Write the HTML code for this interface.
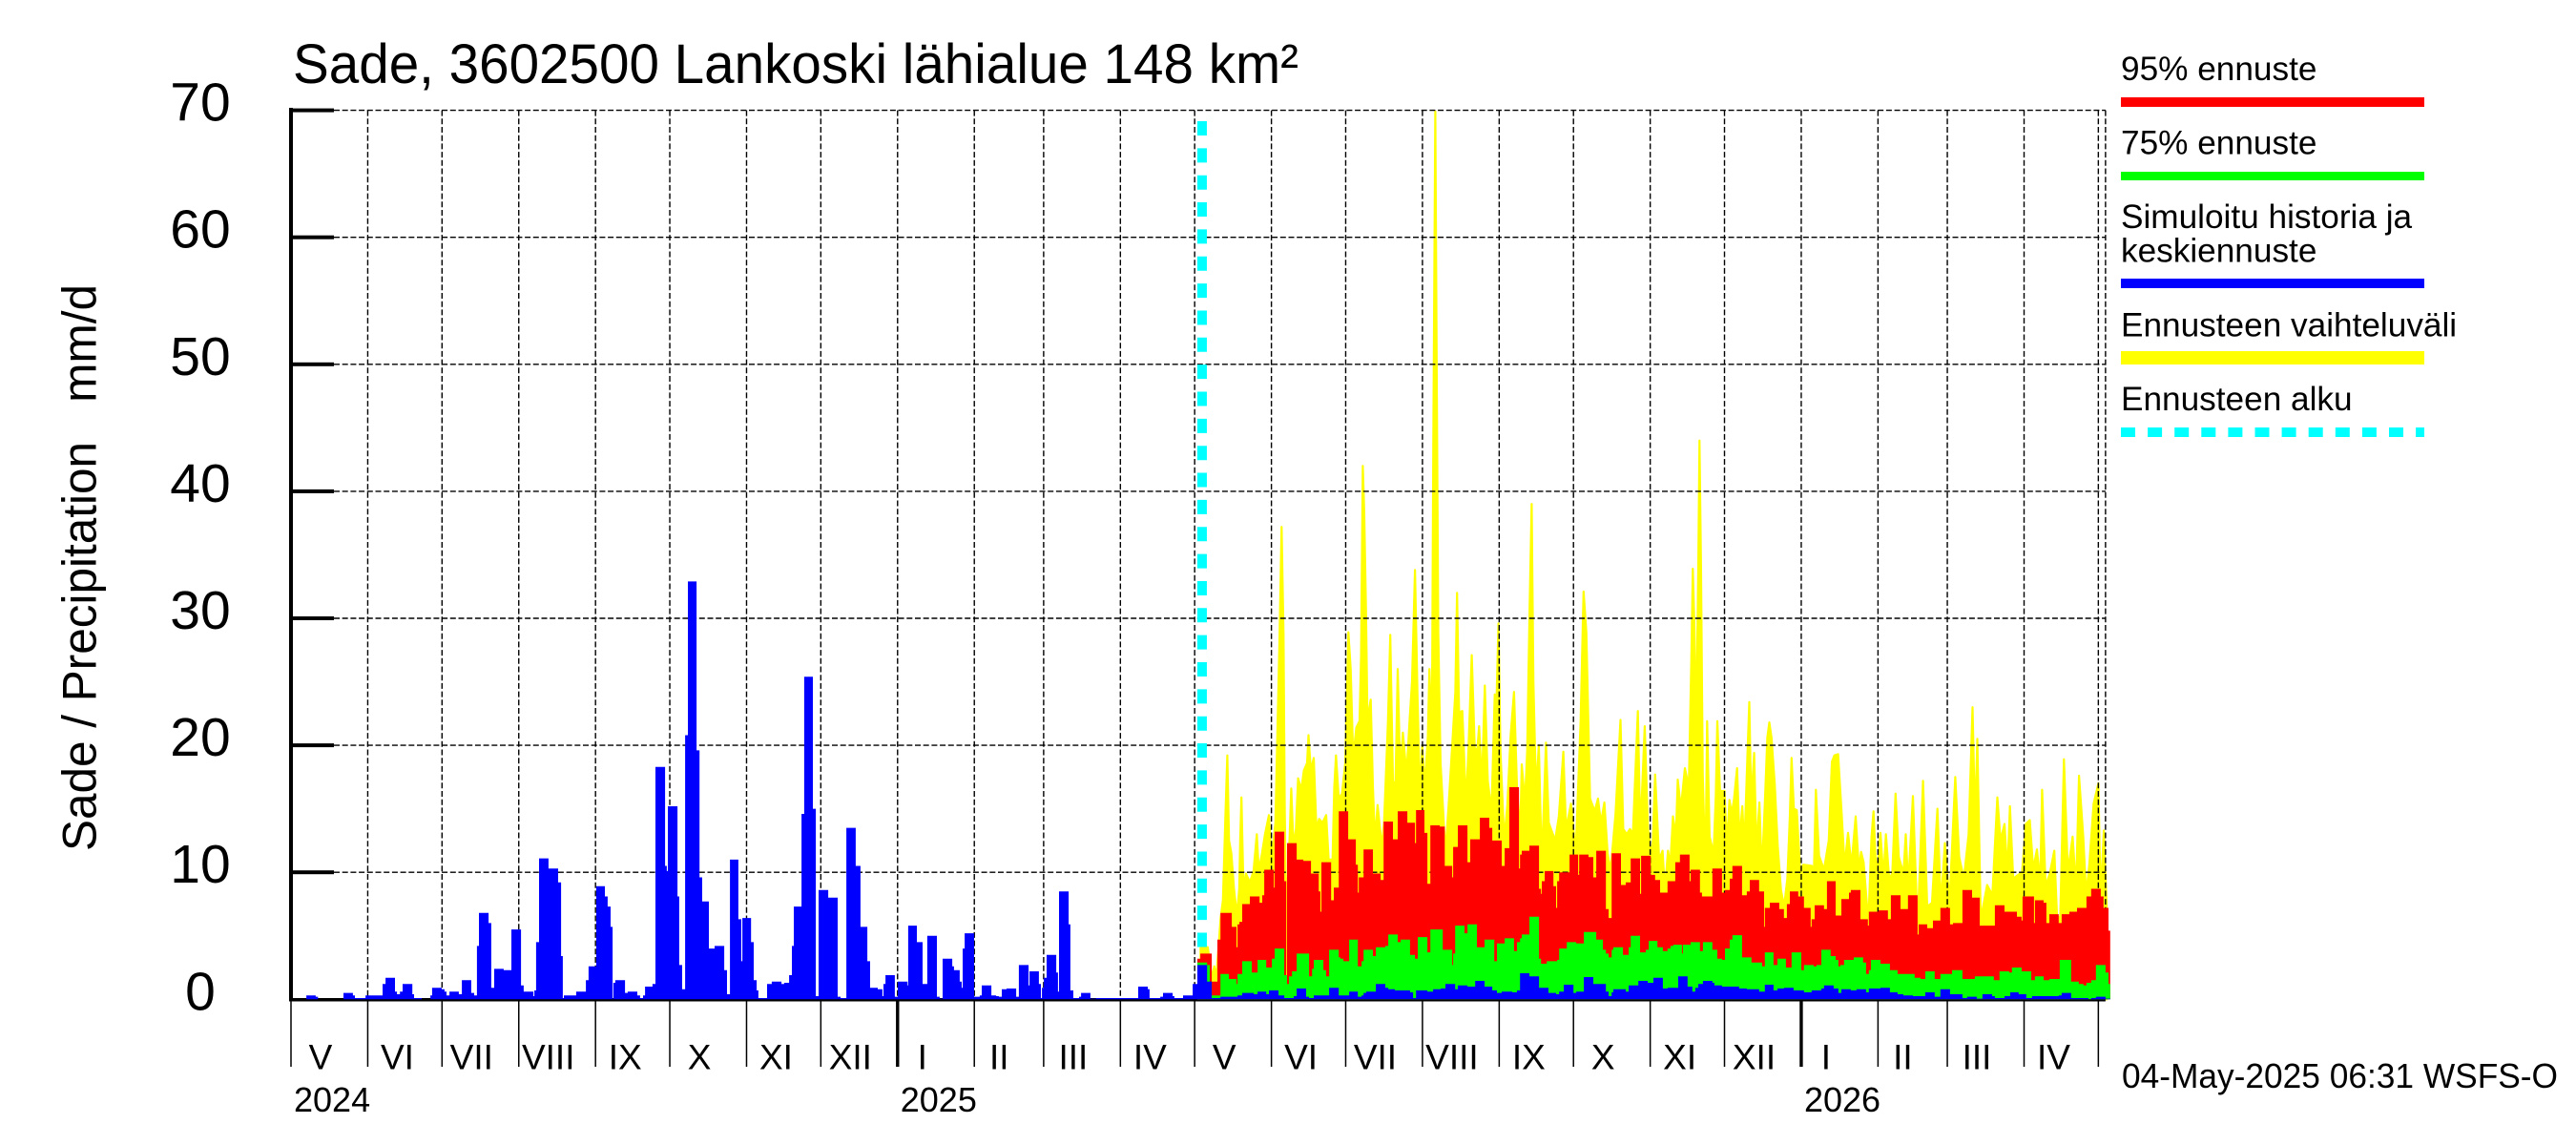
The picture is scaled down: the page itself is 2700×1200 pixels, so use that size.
<!DOCTYPE html>
<html lang="fi">
<head>
<meta charset="utf-8">
<title>Sade, 3602500 Lankoski lähialue 148 km²</title>
<style>
html,body{margin:0;padding:0;background:#fff;width:2700px;height:1200px;overflow:hidden}
svg{display:block;font-family:"Liberation Sans",Arial,sans-serif}
text{fill:#000}
</style>
</head>
<body>
<svg id="chart" xmlns="http://www.w3.org/2000/svg" width="2700" height="1200" viewBox="0 0 2700 1200">
  <rect x="0" y="0" width="2700" height="1200" fill="#fff"/>
  <g id="plot"></g>
  <text x="307" y="87" font-size="58" textLength="1054" lengthAdjust="spacingAndGlyphs">Sade, 3602500 Lankoski lähialue 148 km²</text>
  <text transform="translate(100.7 892) rotate(-90)" font-size="50" textLength="594" lengthAdjust="spacingAndGlyphs" style="white-space:pre">Sade / Precipitation   mm/d</text>
  <text x="2224" y="1140" font-size="36.5" textLength="457" lengthAdjust="spacingAndGlyphs">04-May-2025 06:31 WSFS-O</text>
  <g>
    <text x="2223" y="84" font-size="35.2">95% ennuste</text>
    <rect x="2223" y="102" width="318" height="10" fill="#ff0000"/>
    <text x="2223" y="161.5" font-size="35.2">75% ennuste</text>
    <rect x="2223" y="180" width="318" height="9" fill="#00ff00"/>
    <text x="2223" y="239" font-size="35.2">Simuloitu historia ja</text>
    <text x="2223" y="274.5" font-size="35.2">keskiennuste</text>
    <rect x="2223" y="292" width="318" height="10" fill="#0000ff"/>
    <text x="2223" y="352.5" font-size="35.2">Ennusteen vaihteluväli</text>
    <rect x="2223" y="368" width="318" height="14" fill="#ffff00"/>
    <text x="2223" y="430" font-size="35.2">Ennusteen alku</text>
    <line x1="2223" y1="453" x2="2541" y2="453" stroke="#00ffff" stroke-width="10" stroke-dasharray="15 13.1"/>
  </g>
</svg>
<script>
/* ---------- chart data (day = days since 2024-05-01, value = mm/d) ---------- */
const yTicks = [0, 10, 20, 30, 40, 50, 60, 70];
const monthLabels = ['V','VI','VII','VIII','IX','X','XI','XII','I','II','III','IV','V','VI','VII','VIII','IX','X','XI','XII','I','II','III','IV'];
const monthStartDays = [0,31,61,92,123,153,184,214,245,276,304,335,365,396,426,457,488,518,549,579,610,641,669,700,730];
const yearLabels = ['2024','2025','2026'];
const yearStartDays = [0,245,610];
const forecastStartDay = 368;
const seriesEndDay = 734.8;
const axisEndDay = 732.9;

const historyDays = [6.2,10,10.9,21.2,25,25.8,30.1,37,38.2,42,42.8,44,45.1,49,49.7,52.8,56.3,57,60.9,62,62.8,64,67.8,69,72.8,74,75.1,75.9,79.8,80.9,82.1,85.9,89,92.9,94,97.9,98.3,99,100.2,104,107.9,109.1,109.8,110.2,113.3,115.2,119.1,120.2,123.3,126.8,127.9,129.1,129.9,130.2,131,134.9,136,139.9,141,142.2,143,146,147.2,151.1,151.8,152.2,156.1,156.8,158,159.2,160.3,163.8,165,166.1,168.8,171.1,175,176.1,177.3,180.7,181.9,182.3,185.8,186.9,188.1,188.8,192.3,194.2,198.1,199.2,201.2,202.3,203.1,206.2,207.3,210.8,212,213.1,217,220.8,222,224.3,228.1,230,232.8,233.9,237,238.9,239.3,240.1,243.9,245.1,249,249.3,252.8,255.1,257,260.9,262,263.2,267.1,267.8,270.1,270.9,271.3,272.1,275.9,278.2,279,282.9,284.8,285.9,287.1,289,292.9,294,297.9,298.3,302.1,302.9,303.3,304.1,305.2,309.1,309.8,310.2,314.1,314.8,316,318.3,319.1,322.9,325.2,342.2,346.1,346.8,351.1,352.2,356.1,356.8,360.3,364.2,366.1,370,371.9];
const historyValues = [0.3,0.2,0,0.5,0.3,0.1,0.3,1.2,1.7,0.6,0.4,0.6,1.2,0.4,0.1,0,0.3,0.9,0.8,0.6,0.3,0.6,0.4,1.5,0.5,0.3,4.2,6.8,6,0.9,2.4,2.3,5.5,1.1,0.6,0.25,0.7,4.5,11.1,10.3,9.2,3.4,0.1,0.3,0.3,0.6,1.5,2.6,8.9,8.1,7.3,5.7,0.05,1.3,1.5,0.5,0.6,0.3,0.1,0.3,1,1.2,18.3,10.5,10.1,15.2,8.1,2.7,0.8,20.8,32.9,19.6,9.6,7.7,4,4.2,2.3,0.4,11,6.3,3,6.4,4.5,1.5,0.7,0.1,1.2,1.4,1.2,1.3,1.9,4.2,7.3,14.6,25.4,15,0.25,8.6,8,0.2,0.1,13.5,10.5,5.7,3,0.9,0.8,0.25,1.2,1.9,0.2,1.4,1.1,5.8,4.5,1.2,5,0.2,0.05,3.2,2.6,2.3,1.4,0.9,4,5.2,0.2,0.3,1.1,0.3,0.25,0.2,0.8,0.85,0.2,2.7,1.1,2.2,1.2,0.1,0.9,1.7,3.5,2.1,0.6,8.5,5.9,0.7,0.1,0.2,0.5,0.05,0.1,1,0.8,0.1,0.2,0.5,0.25,0.1,0.3,1.2,2.7,1.4,0];

const rangeDays = [
367.4,370.3,371.9,372.9,373.8,375.5,376.4,377.4,378.2,378.9,
379.8,380.9,382.1,383,383.4,383.9,384.7,385.7,387.3,388.8,
390.1,390.9,392.2,393.4,395,396,397.6,398.3,399.3,400.1,
400.9,401.4,402,403.3,404,404.9,405.9,406.8,408.1,409.1,
410.4,411,411.9,413.1,414.2,415.3,416.6,418.1,419.1,420.7,
421.4,422.1,423.2,424.5,425.8,427.1,428,429,430.3,431.6,
432.2,432.9,433.5,434.2,434.8,436.1,437,437.8,438.9,440.6,
441.5,443.1,444,445.1,446.1,447,448,449.1,450.6,451.8,
452.8,454,455,456,456.9,457.9,459.2,459.8,460.8,461.4,
462.2,462.8,463.4,464.3,466.3,467.6,469.2,470.3,471,471.8,
473.1,474.6,475.6,476.9,478.1,479.1,479.9,481,482.2,483.4,
484.9,486.2,486.8,487.7,488.5,490,491.3,492.6,494,495.2,
496.5,497.1,498.4,499.3,500.3,501.1,501.8,502.9,504,505.2,
506.9,508,510.6,512.1,513.9,515,517,518.9,520.9,522.1,
523.2,524.7,526.6,527.9,529.1,530.5,531.8,533,535,537,
538.1,539.5,540.8,542,544,545,546.8,548.1,549.8,551,
552.6,554,554.9,556.2,557.1,558.2,559.4,560.1,561.4,563,
564.6,565.6,566.2,566.9,567.5,568.4,568.9,569.5,570.2,571.3,
572,573,574.6,575.5,576.1,577.2,579,580,581,581.9,
582.8,584.1,585.1,586.2,587,588.3,589,589.8,591,591.9,
593.1,594.1,595.4,596.3,597.1,598,599.3,600.5,601.8,603.1,
604.4,605.4,606.1,607,608.2,609.5,610.8,614.3,615,615.9,
617.2,619.2,621.1,622.4,623.4,624.9,626.2,627.5,628.9,630.3,
632,633.3,634.2,635.2,637.1,638.4,639.2,640.4,642,643.2,
644.2,645.5,646.8,648.1,649.4,651.3,652.2,653.2,655.1,657,
659.2,660.9,662.8,665,666.4,668,669.9,672.2,673.8,675.7,
677.6,679.2,680.2,681.1,682.5,685.1,687.2,689.2,690.5,692.1,
693.3,694.3,695.6,696.9,699.2,700.7,702.3,703.7,705.2,706.5,
707.3,708.7,710.4,712.2,713.3,714.6,716.1,717.7,719.6,721,
722.2,723.9,725.1,726.4,728.1,730,730.9,732.2,733.5];
const rangeMaxValues = [
4.1,4.1,1.7,2.6,1.8,6.4,7.8,14.4,19.2,12.5,
11.5,8.7,6.6,8.7,12.5,15.9,8.7,9.9,9.2,10.1,
13,10.1,11.5,13,14.5,11,13.9,20,28.7,37.2,
28.7,14.8,6.4,12.5,16.6,12,13.4,17.4,16.5,18,
18.6,20.8,18,19,13.4,14.2,13.9,14.5,11,11,
16.7,19.2,15.8,16.2,18.6,28.9,26,19,21.4,21.9,
27,42,38.3,30.8,21.9,23.6,16.7,12.5,15.3,12,
13.9,21.9,28.7,17.2,16.7,26,17.7,21,17.7,21.9,
25,33.8,24,15.8,20,16.7,20.7,26,20.5,43.5,
69.9,47.7,28.9,18.6,11.5,15.3,20.6,24.2,32,22.6,
22.7,15.3,19.8,27.1,19.8,19.5,21.5,16.7,24.7,17.2,
14.8,24,22.3,29.6,19.5,12.5,15.3,20.7,24.2,16.7,
13,18.5,15.5,19.5,31,39,25,16.2,20,10.6,
20.2,13.9,12.5,14.4,19.5,13.4,15.4,11.5,21.9,32.1,
28.9,15.8,14.8,15.8,13.9,15.5,11.5,10.1,14.6,22,
13.4,13,13.4,13,22.7,13,21.5,13.4,11,17.7,
11,11.7,8.6,11.7,10.5,14.4,12.8,17.3,15,18.2,
16.7,26.5,33.9,29,20.6,33.6,44,34,17.7,9.9,
21.9,12.8,11.5,16,21.9,16.4,16.4,12.1,15.7,14.6,
15.7,18.2,12.5,15.2,11.8,19.3,23.4,15.4,19.4,11.7,
15.5,9.9,16,20.6,21.8,20.6,16.9,12.1,8.6,7.3,
9.5,14.4,19,15,14.9,10.2,10.6,10.5,8.9,16.5,
11.3,10.2,12.5,18.7,19.2,19.3,15,10.5,13.1,10.5,
14.4,10.2,11.6,10.8,6,12.8,14.8,9.5,13.1,9.5,
13,9.5,9.9,16.2,11.2,9.9,13,8.9,16,5.6,
17.2,7.3,7.6,15,7.3,12.3,7.6,17.5,11.2,9.5,
13,23,13.8,20.5,6.3,9,8.2,15.9,12.5,13.8,
9.9,15.2,9.5,9.7,10,13.8,14.1,10.2,11.8,9.1,
16.5,8.9,9.9,11.7,6.6,6.3,18.9,10,12.8,8.6,
17.6,12.8,8.2,10.7,15.4,17,7.9,13.3,6.6];

const p95Days = [366.1,367.3,371.9,374.2,375.4,380,381.9,382.3,383.1,384.2,387.3,391.2,392.3,393.1,397,397.3,401.2,402,402.3,406.2,408.9,412,415.1,415.8,416.2,420.1,421.2,423.2,427,430.1,430.9,431.3,433.2,437,440.1,441.3,445.1,447,450.9,454,454.4,457.8,459,460.2,464,466,469,469.4,471.3,475.2,476.3,480.2,484,485.2,489,490.2,492.1,496,496.4,497.1,500.2,504.1,504.9,505.2,506.4,509.9,511,511.4,512.2,516.4,519.9,520.3,524.1,526,527.2,531.1,532.2,533.4,537.2,539.1,541.1,544.9,545.3,549.2,551,553,556,559.1,561,564.9,565.3,569.1,569.9,571.1,574.1,578,579.2,581.1,582.2,586.1,588,589.2,593,595,595.3,597.3,601.1,603,604.2,605.4,608.8,611.1,613.8,614.2,615.4,619.2,620.4,623.9,626.2,629.3,630,633.9,636.9,637.3,641.2,645,646.2,650.1,653.1,657,657.4,660.9,663.2,666.2,670.1,671.3,675.1,679,682.1,688.2,692.1,694,697.1,699,699.4,704,704.4,707.9,709,710.2,714,715.2,718.3,721.4,725.2,727.1,731,732.1,734.1];
const p95Values = [3.2,3.6,1.4,4.7,6.8,5.7,4.1,5.9,6.1,7.5,8.1,7.6,8.2,10.2,8.8,13.2,9.3,1.8,12.3,11,10.9,9.9,8.5,6.9,10.8,7.8,8.8,14.8,12.6,10.6,8.4,9.6,11.8,9.9,9.4,14,12.6,14.8,13.9,12.3,14.9,13.1,9.1,13.7,13.6,10.5,9.6,12,13.7,10.8,12.6,14.3,13.5,12.5,10.5,11.9,16.7,10.3,11.4,11.7,12.1,8.7,8.3,9.3,10.1,8.9,7.2,9.3,10,11.4,9.8,11.4,11.2,9.6,11.7,7.1,6.4,11.5,9,9.2,11.1,8.3,11.3,9.8,9.4,8.4,9.3,10.8,11.4,9.3,10.2,8.4,8.1,8.1,10.3,8.4,8.6,9.5,10.5,8.2,8.5,9.4,8.5,5.7,7.2,7.6,7.1,6.4,7.5,8.5,8.1,7.2,5.7,6.3,7.4,7.1,9.3,6.6,7.9,8.4,8.6,6.3,5.8,6.9,7,6.3,8.2,7.1,8.2,5.1,5.9,5.6,6.2,7.2,5.9,6,8.6,8,5.8,7.4,6.9,6.9,6.5,6.2,8.1,6,7.8,7.6,6,6.7,6,6.7,6.9,7.2,8.1,8.7,8.1,7.2,5.4];

const p75Days = [366.1,370,371.1,371.9,375.4,378.8,381.9,382.3,384.2,388.1,390.4,393.9,396.2,397.3,401.2,402.3,403.1,404.3,406.2,411.2,412.4,413.1,417,418.1,419.3,423.2,423.9,425.1,427.4,430.9,432.4,433.2,437,438.2,442,443.2,447,448.2,452,454,455.1,459,460.2,465.2,469,469.4,470.2,474,475.2,479,482.1,486,487.1,490.2,494,495.2,496.4,497.1,500.2,504.1,504.9,506.4,507.2,511.4,512.2,515.3,519.1,522.2,527.2,529.9,531.1,532.2,533.4,534.1,538,540.3,541.1,544.9,547.2,548.4,551.9,554.1,556,557.2,558.3,561.8,562.2,565.3,569.1,570.3,574.1,576.1,578,579.2,581.1,582.2,586.1,589.9,594.2,595.3,598.8,600.4,603.8,606.1,610,611.1,615,616.2,618.1,621.9,623.9,625,625.8,627.3,631.2,635,636.2,637.3,638.1,642,645.8,648.9,655.8,658.2,660.1,663.9,666.2,670.9,675.1,680.1,684,687.8,690.1,694,695.1,699,702.9,704.4,707.9,710.2,714.4,719,722.1,724,725.2,727.1,729,732.9,734.1];
const p75Values = [2.9,2.7,1.4,0.3,2,1.6,1.2,2,3,2.1,3.1,2.5,3.2,4,1.9,1.2,1.8,2.2,3.6,1.8,2.4,3.1,2.3,1.8,3.9,3.3,3.2,3,4.7,2.6,3,3.9,3.4,4.1,4.2,5.1,4.5,4.7,3.5,3.2,4.9,3.7,5.5,3.9,2.7,3.6,5.8,5.2,5.9,4.1,4.7,3,4.4,4.8,3.8,4.5,4.8,5.1,6.5,3.2,2.8,2.8,3,3.1,4,4.5,4.4,5.3,4.7,3.9,3.6,3.3,3.9,4.1,3.5,4.1,5,3.7,3.9,4.6,4.1,3.8,4,4.2,4.3,3.6,4.3,4.5,3.8,4.5,3.9,3.2,3.1,4,4.7,5.05,3.3,2.9,2.6,3.7,2.7,3.2,2.5,3.7,2.3,2.7,2.6,2.7,3.9,3.4,3.1,2.6,2.7,3.1,3.3,2.9,2,2.3,3.1,2.8,2.3,2,1.7,1.6,2.2,1.6,2,2.3,1.6,1.8,1.8,1.5,2.2,2.1,2.5,2.2,1.5,1.8,1.5,1.6,3.1,1.4,1.2,1.1,1.3,1.5,2.7,2.1,1.2];

const meanDays = [371.9,375.4,381.5,382.3,384.2,388.9,390.4,393.9,395,398.9,401.2,405,406.2,410,411.2,413.1,419.3,423.2,427.4,430.9,432.4,433.2,434.3,438.2,442,443.2,445.9,452,453.2,454.4,459,461.3,464.4,466.3,470.2,471.3,475.2,478.3,482.1,485.2,487.1,489,493.3,495.2,496.4,500.2,504.1,507.9,511,512.2,514.1,518,519.1,522.2,526,531.1,532.2,533.4,534.1,539.1,540.3,544.2,548,550.3,554.1,556,560.3,564.1,566,567.2,568.4,570.3,574.1,574.9,578,584.9,588,593,595.3,598.8,600.4,603,606.9,611.1,614.2,618.1,619.2,623.1,625,626.2,630,632.3,636.2,637.3,642,645.8,648.9,651.2,655.1,660.1,663.9,666.2,670.1,675.1,677,680.9,683.2,687.1,688.2,692.1,694.4,697.8,700.9,703.2,714,715.2,719,726,727.1,729,732.9];
const meanValues = [0.1,0.2,0.2,0.3,0.5,0.4,0.6,0.4,0.7,0.3,0.1,0.25,0.85,0.2,0.1,0.3,0.9,0.3,0.6,0.2,0.3,0.5,0.6,1.2,0.9,0.8,0.7,0.55,0.1,0.7,0.6,0.8,0.85,1.2,0.8,1.1,1,1.45,1,0.7,0.5,0.6,0.55,0.7,2.05,1.8,0.9,0.5,0.4,0.6,1.15,0.5,0.6,1.75,1.2,0.6,0.25,0.55,0.8,0.6,1.1,1.45,1.3,1.7,0.85,0.9,1.8,1,0.6,0.9,1.2,1.45,1.3,1.1,1,0.85,0.8,0.6,1.15,0.7,0.85,0.9,0.7,0.55,0.7,0.85,1.1,0.85,0.5,0.8,0.7,0.8,0.55,0.85,0.9,0.55,0.4,0.3,0.25,0.55,0.2,0.8,0.4,0.1,0.2,0.05,0.4,0.25,0.1,0.25,0.55,0.4,0.1,0.25,0.3,0.5,0.1,0.02,0.1,0.2,0.05];

/* ---------- axis functions ---------- */
const xScale = d => 305 + 2.595 * d;
const yScale = v => 1047.3 - 13.31 * v;

const SVG_NS = 'http://www.w3.org/2000/svg';
const plot = document.getElementById('plot');
function el(tag, attrs, parent) {
  const node = document.createElementNS(SVG_NS, tag);
  for (const key in attrs) node.setAttribute(key, attrs[key]);
  (parent || plot).appendChild(node);
  return node;
}
function stepPath(days, values, endDay) {
  let d = 'M' + xScale(days[0]).toFixed(1) + ' ' + yScale(0).toFixed(1);
  for (let i = 0; i < days.length; i++) {
    const next = i + 1 < days.length ? days[i + 1] : endDay;
    d += 'L' + xScale(days[i]).toFixed(1) + ' ' + yScale(values[i]).toFixed(1);
    d += 'L' + xScale(next).toFixed(1) + ' ' + yScale(values[i]).toFixed(1);
  }
  return d + 'L' + xScale(endDay).toFixed(1) + ' ' + yScale(0).toFixed(1) + 'Z';
}
function linePath(days, values) {
  let d = 'M' + xScale(days[0]).toFixed(1) + ' ' + yScale(0).toFixed(1);
  for (let i = 0; i < days.length; i++) {
    d += 'L' + xScale(days[i]).toFixed(1) + ' ' + yScale(values[i]).toFixed(1);
  }
  return d + 'L' + xScale(days[days.length - 1]).toFixed(1) + ' ' + yScale(0).toFixed(1) + 'Z';
}

/* ---------- forecast range sits beneath the grid ---------- */
const rangeArea = el('path', {d: linePath(rangeDays, rangeMaxValues), fill: '#ffff00', stroke: '#ffff00', 'stroke-width': 2.2, 'stroke-linejoin': 'round'});



/* ---------- grid ---------- */
const gridRight = xScale(axisEndDay);
const gridTop = yScale(70);
yTicks.forEach(t => {
  if (t === 0) return;
  const gridLine = el('line', {x1: 350, x2: gridRight, y1: yScale(t), y2: yScale(t), stroke: '#000', 'stroke-width': 1.4, 'stroke-dasharray': '6 2.7'});
  
  
});
monthStartDays.forEach((day, i) => {
  if (i === 0) return;
  const monthGrid = el('line', {x1: xScale(day), x2: xScale(day), y1: gridTop, y2: yScale(0), stroke: '#000', 'stroke-width': 1.4, 'stroke-dasharray': '6 2.7'});
  
  
});
const rightBorder = el('line', {x1: gridRight, x2: gridRight, y1: gridTop, y2: yScale(0), stroke: '#000', 'stroke-width': 1.4, 'stroke-dasharray': '6 2.7'});



/* ---------- forecast start marker ---------- */
const startX = xScale(forecastStartDay);
const startLine = el('line', {x1: startX, x2: startX, y1: 127, y2: yScale(0), stroke: '#00ffff', 'stroke-width': 10, 'stroke-dasharray': '15 13.35'});



/* ---------- x axis baseline sits beneath the bars ---------- */
const baseline = el('rect', {x: 303, y: 1046, width: gridRight - 303, height: 3.5, fill: '#000'});



/* ---------- series ---------- */
const p95Area = el('path', {d: stepPath(p95Days, p95Values, seriesEndDay), fill: '#ff0000'});


const p75Area = el('path', {d: stepPath(p75Days, p75Values, seriesEndDay), fill: '#00ff00'});


const meanArea = el('path', {d: stepPath(meanDays, meanValues, seriesEndDay), fill: '#0000ff'});


const historyArea = el('path', {d: stepPath(historyDays, historyValues, historyDays[historyDays.length - 1]), fill: '#0000ff'});



/* ---------- y axis ---------- */
const yAxisLine = el('rect', {x: 303, y: 113, width: 4, height: 936, fill: '#000'});


yTicks.forEach(t => {
  if (t !== 0) {
    const tickMark = el('rect', {x: 303, y: yScale(t) - 2, width: 47, height: 4, fill: '#000'});
    
    
  }
  const tickLabel = el('text', {x: 210, y: yScale(t) + 11, 'font-size': 57, 'text-anchor': 'middle'});
  tickLabel.textContent = String(t);
  
  
});

/* ---------- x axis ticks and labels ---------- */
monthStartDays.forEach(day => {
  const isYearStart = yearStartDays.includes(day) && day !== 0;
  const monthTick = el('line', {x1: xScale(day), x2: xScale(day), y1: 1049, y2: 1118, stroke: '#000', 'stroke-width': isYearStart ? 3.4 : 1.5});
  
  
});
monthLabels.forEach((label, i) => {
  const shift = (label === 'I' || label === 'II') ? 26 : 31;
  const monthLabel = el('text', {x: xScale(monthStartDays[i]) + shift, y: 1120.5, 'font-size': 37, 'text-anchor': 'middle'});
  monthLabel.textContent = label;
  
  
});
yearLabels.forEach((label, i) => {
  const yearLabel = el('text', {x: xScale(yearStartDays[i]) + 3, y: 1165, 'font-size': 36});
  yearLabel.textContent = label;
  
  
});
</script>
</body>
</html>
